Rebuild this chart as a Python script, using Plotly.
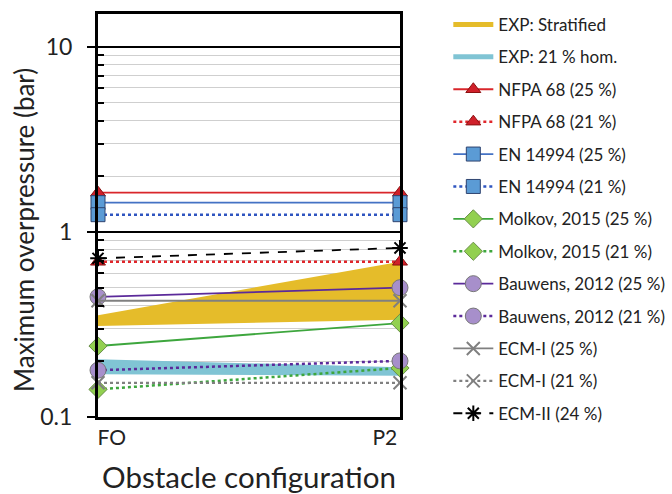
import plotly.graph_objects as go

# ---- data ----
configs = ["FO", "P2"]
x_pos = [0, 1]
exp_strat_low = [0.31, 0.335]
exp_strat_high = [0.355, 0.69]
exp_hom_low = [0.17, 0.167]
exp_hom_high = [0.205, 0.186]
nfpa68_25 = [1.63, 1.63]
nfpa68_21 = [0.69, 0.69]
en14994_25 = [1.44, 1.44]
en14994_21 = [1.24, 1.24]
molkov_25 = [0.242, 0.322]
molkov_21 = [0.141, 0.184]
bauwens_25 = [0.446, 0.50]
bauwens_21 = [0.179, 0.201]
ecm1_25 = [0.425, 0.425]
ecm1_21 = [0.153, 0.153]
ecm2_24 = [0.72, 0.82]
y_ticks = [0.1, 1, 10]
y_ticklabels = ["0.1", "1", "10"]

FONT = "Lato"
YELLOW = "#E5BC2A"
CYAN = "#80C4D4"

fig = go.Figure()

# bands (no legend)
fig.add_trace(go.Scatter(x=x_pos + x_pos[::-1], y=exp_strat_low + exp_strat_high[::-1],
                         fill="toself", fillcolor=YELLOW, line=dict(width=0, color=YELLOW),
                         mode="lines", showlegend=False, hoverinfo="skip"))
fig.add_trace(go.Scatter(x=x_pos + x_pos[::-1], y=exp_hom_low + exp_hom_high[::-1],
                         fill="toself", fillcolor=CYAN, line=dict(width=0, color=CYAN),
                         mode="lines", showlegend=False, hoverinfo="skip"))

# legend entries for bands
fig.add_trace(go.Scatter(x=[None], y=[None], mode="lines", name="EXP: Stratified",
                         legendgroup="g1", line=dict(color=YELLOW, width=5)))
fig.add_trace(go.Scatter(x=[None], y=[None], mode="lines", name="EXP: 21 % hom.",
                         legendgroup="g2", line=dict(color=CYAN, width=5)))

def series(y, name, color, dash, symbol, fill, outline, size, lw=1.8, mlw=1):
    fig.add_trace(go.Scatter(
        x=x_pos, y=y, name=name, legendgroup=name, mode="lines+markers", cliponaxis=False,
        line=dict(color=color, width=lw, dash=dash),
        marker=dict(symbol=symbol, size=size, color=fill,
                    line=dict(color=outline, width=mlw))))

series(nfpa68_25, "NFPA 68 (25 %)", "#D9262B", "solid", "triangle-up", "#D0202A", "#8B1010", 13)
series(nfpa68_21, "NFPA 68 (21 %)", "#E0262B", "dot", "triangle-up", "#D0202A", "#8B1010", 13, lw=2.5)
series(en14994_25, "EN 14994 (25 %)", "#4472C4", "solid", "square", "#5B9BD5", "#2F4470", 14)
series(en14994_21, "EN 14994 (21 %)", "#2F55C0", "dot", "square", "#5B9BD5", "#2F4470", 14, lw=2.5)
series(molkov_25, "Molkov, 2015 (25 %)", "#3DA63D", "solid", "diamond", "#92D050", "#6A8F4A", 14)
series(molkov_21, "Molkov, 2015 (21 %)", "#3DA63D", "dot", "diamond", "#92D050", "#6A8F4A", 14, lw=2.5)
series(bauwens_25, "Bauwens, 2012 (25 %)", "#5B2A9A", "solid", "circle", "#A78FCB", "#777777", 16)
series(bauwens_21, "Bauwens, 2012 (21 %)", "#5B2A9A", "dot", "circle", "#A78FCB", "#777777", 16, lw=2.5)
series(ecm1_25, "ECM-I (25 %)", "#808080", "solid", "x-thin", "#808080", "#808080", 13, mlw=2)
series(ecm1_21, "ECM-I (21 %)", "#808080", "dot", "x-thin", "#808080", "#808080", 13, lw=2.2, mlw=2)
series(ecm2_24, "ECM-II (24 %)", "#000000", "dash", "asterisk", "#000000", "#000000", 13, mlw=2)

fig.update_layout(
    width=672, height=494,
    margin=dict(l=98, r=272, t=14, b=77, autoexpand=False),
    paper_bgcolor="white", plot_bgcolor="white",
    font=dict(family=FONT, color="#222222"),
    showlegend=True,
    legend=dict(x=1.16, xanchor="left", y=1.0176, yanchor="top",
                font=dict(size=17, family=FONT, color="#222222"),
                bgcolor="rgba(0,0,0,0)", tracegroupgap=7.3, itemwidth=40,
                traceorder="grouped", maxheight=494),
    annotations=[dict(text="Maximum overpressure (bar)", textangle=-90,
                      xref="paper", yref="paper", x=-0.245, y=0.464,
                      xanchor="center", yanchor="middle", showarrow=False,
                      font=dict(size=26, family=FONT, color="#222222"))],
)
fig.update_xaxes(range=[0, 1], tickvals=[0.046, 0.95], ticktext=configs,
                 showgrid=False, zeroline=False, ticks="",
                 showline=True, linecolor="black", linewidth=2.5, mirror=True,
                 tickfont=dict(size=21, family=FONT, color="#222222"),
                 title=dict(text="Obstacle configuration", font=dict(size=29.5, family=FONT, color="#222222"),
                            standoff=21))
fig.update_yaxes(type="log", range=[-1, 1.178], tickvals=y_ticks, ticktext=y_ticklabels,
                 showgrid=True, gridcolor="black", gridwidth=1.5,
                 ticks="outside", ticklen=8, tickwidth=2, tickcolor="black",
                 ticklabelstandoff=10,
                 showline=True, linecolor="black", linewidth=3, mirror=True,
                 tickfont=dict(size=23, family=FONT, color="#222222"),
                 minor=dict(tickvals=[k * 10 ** e for e in (-1, 0) for k in range(2, 10)],
                            showgrid=True, gridcolor="#CFCFCF", gridwidth=1.2,
                            ticks="inside", ticklen=6, tickwidth=2, tickcolor="black"))

fig.write_html("out.html", post_script="document.body.style.margin='0';",
               config={"displayModeBar": False})
